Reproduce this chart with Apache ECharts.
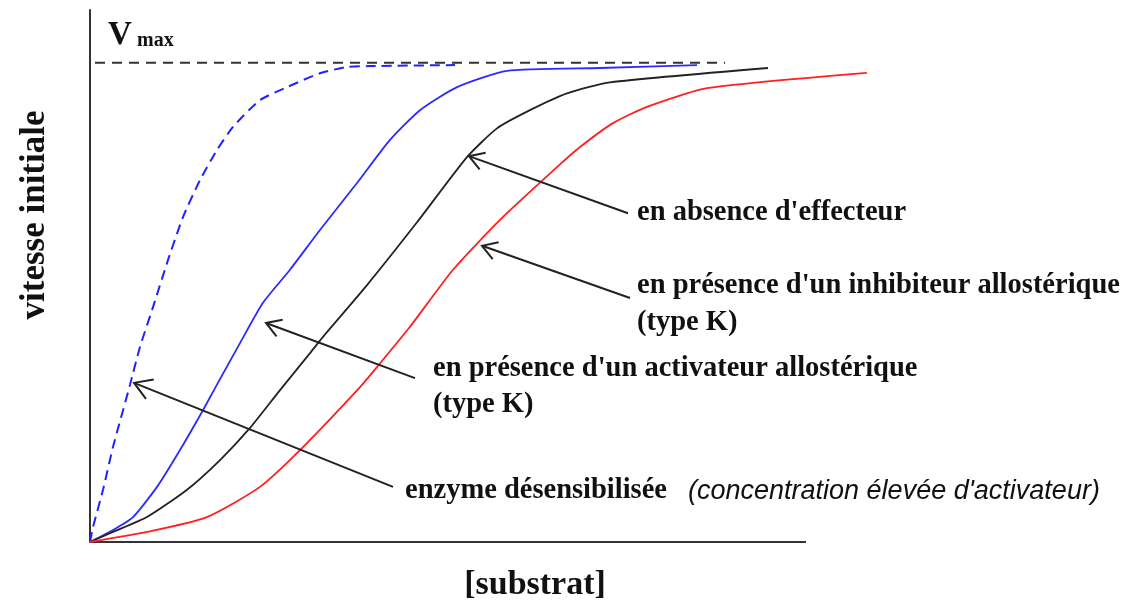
<!DOCTYPE html>
<html><head><meta charset="utf-8">
<script src="https://cdn.jsdelivr.net/npm/echarts@6/dist/echarts.min.js"></script>
<style>html,body{margin:0;padding:0;background:#fff}#c{width:1129px;height:610px}</style>
</head><body><div id="c"></div>
<script>
// Curves: [substrate, initial velocity] (Vmax = 100)
const desensitized = [[0,0],[0.42,3.1],[1.82,10.9],[3.21,19.8],[5.59,32.8],[6.98,40.7],[8.8,49.0],[10.89,58.8],[12.99,67.8],[15.36,75.5],[17.74,81.8],[19.97,86.6],[23.74,92.2],[27.51,94.9],[32.12,97.8],[35.89,99.1],[39.11,99.3],[50.98,99.5]];
const activator = [[0,0],[3.21,2.5],[6.01,5.2],[9.36,11.5],[12.57,19.2],[15.78,27.5],[17.46,32.1],[20.95,41.5],[24.16,49.9],[27.93,56.8],[32.12,65.1],[37.29,74.9],[41.9,83.9],[46.09,90.1],[51.26,94.9],[58.24,98.3],[71.23,98.9],[84.78,99.5]];
const noEffector = [[0,0],[3.21,2.1],[7.96,5.2],[13.55,10.9],[18.16,17.1],[22.35,23.8],[26.54,31.7],[30.73,39.4],[32.54,42.8],[38.69,53.6],[45.67,66.7],[52.65,80.3],[56.84,86.3],[61.45,90.1],[66.62,93.6],[72.63,95.9],[94.69,98.9]];
const inhibitor = [[0,0],[7.96,2.1],[16.34,5.2],[23.74,11.5],[29.75,19.8],[37.71,32.3],[40.08,36.5],[44.69,44.9],[50.7,56.8],[57.26,67.2],[65.22,78.2],[68.44,82.4],[73.04,87.4],[77.79,90.8],[86.17,94.7],[108.5,97.9]];
const vmaxLine = [[0.7,100],[88.7,100]];
const xAxisLine = [[0,0],[100,0]];
// Arrows: [headX, headY, tailX, tailY]
const arrows = [[52.93,80.5,75.14,68.6],[54.75,61.8,75.42,50.9],[24.58,45.7,45.39,34.2],[6.15,33.2,42.32,11.5]];
// Texts
const labels = ["en absence d'effecteur","en présence d'un inhibiteur allostérique","(type K)","en présence d'un activateur allostérique","(type K)","enzyme désensibilisée"];
const noteText = "(concentration élevée d'activateur)";
const xTitle = "[substrat]";
const yTitle = "vitesse initiale";

const serif = '"Liberation Serif","Times New Roman",serif';
const chart = echarts.init(document.getElementById('c'));
const labelPos = [[637,213],[637,286],[637,323],[433,369],[433,405],[405,491]];
const graphics = labels.map((t,i)=>({type:'text',x:labelPos[i][0],y:labelPos[i][1],style:{text:t,font:'bold 28.5px '+serif,fill:'#111',verticalAlign:'middle'}}));
graphics.push({type:'text',x:688,y:491,style:{text:noteText,font:'italic 27px "Liberation Sans",Arial,sans-serif',fill:'#111',verticalAlign:'middle'}});
graphics.push({type:'text',x:535,y:585,style:{text:xTitle,font:'bold 34px '+serif,fill:'#111',align:'center',verticalAlign:'middle'}});
graphics.push({type:'text',x:35,y:215,rotation:Math.PI/2,style:{text:yTitle,font:'bold 35px '+serif,fill:'#111',align:'center',verticalAlign:'middle'}});
graphics.push({type:'text',x:108,y:35,style:{text:'V',font:'bold 33px '+serif,fill:'#111',verticalAlign:'middle'}});
graphics.push({type:'text',x:137,y:41,style:{text:'max',font:'bold 20px '+serif,fill:'#111',verticalAlign:'middle'}});

function line(data,color,type,width){return {type:'line',data:data,showSymbol:false,symbol:'none',smooth:0.2,clip:false,silent:true,lineStyle:{color:color,width:width,type:type},z:3};}

chart.setOption({
  animation:false,
  grid:{left:90,right:251.4,top:10,bottom:68},
  xAxis:{type:'value',min:0,max:110,axisLine:{show:false},axisTick:{show:false},axisLabel:{show:false},splitLine:{show:false}},
  yAxis:{type:'value',min:0,max:111,axisLine:{show:true,lineStyle:{color:'#333',width:2}},axisTick:{show:false},axisLabel:{show:false},splitLine:{show:false}},
  graphic:graphics,
  series:[
    Object.assign(line(vmaxLine,'#333',[10,7],2),{smooth:false}),
    Object.assign(line(xAxisLine,'#333','solid',2),{smooth:false}),
    line(desensitized,'#2222ff',[10,6],2),
    line(activator,'#2a2aff','solid',1.8),
    line(noEffector,'#222','solid',1.8),
    line(inhibitor,'#ff1f1f','solid',1.8),
    {type:'custom',data:arrows,encode:{x:[0,2],y:[1,3]},silent:true,z:4,
     renderItem:function(params,api){
       const h=api.coord([api.value(0),api.value(1)]);
       const t=api.coord([api.value(2),api.value(3)]);
       const ang=Math.atan2(t[1]-h[1],t[0]-h[0]);
       const L=params.dataIndex===3?20:17, a=0.55;
       const p1=[h[0]+L*Math.cos(ang-a),h[1]+L*Math.sin(ang-a)];
       const p2=[h[0]+L*Math.cos(ang+a),h[1]+L*Math.sin(ang+a)];
       return {type:'group',children:[
         {type:'line',shape:{x1:h[0],y1:h[1],x2:t[0],y2:t[1]},style:{stroke:'#222',lineWidth:2}},
         {type:'polyline',shape:{points:[p1,h,p2]},style:{stroke:'#222',lineWidth:2,fill:null}}
       ]};
     }}
  ]
});
</script></body></html>
